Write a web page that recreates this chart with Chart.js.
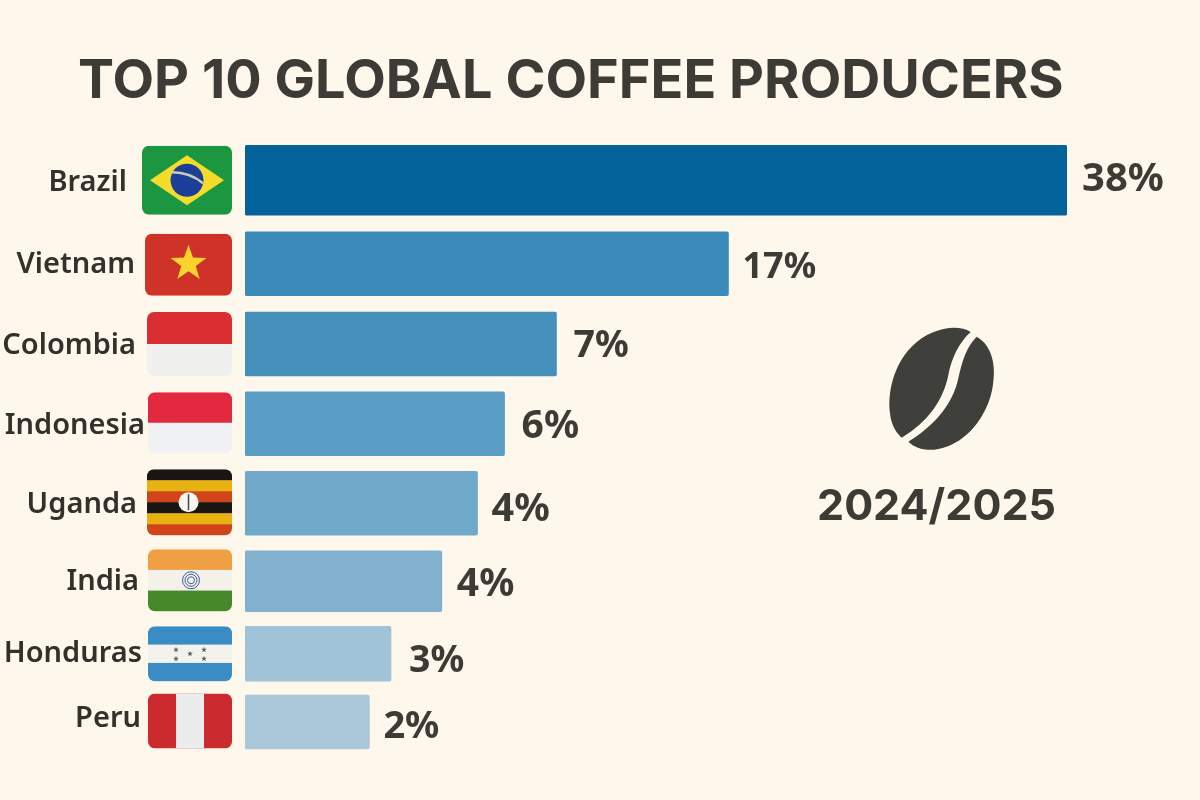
<!DOCTYPE html>
<html>
<head>
<meta charset="utf-8">
<title>Top 10 Global Coffee Producers</title>
<script src="https://cdn.jsdelivr.net/npm/chart.js@4"></script>
<style>
  html, body { margin: 0; padding: 0; background: #fef8ec; }
  canvas { display: block; }
</style>
</head>
<body>
<canvas id="coffeeChart" width="1200" height="800"></canvas>
<script>
const countries = ['Brazil', 'Vietnam', 'Colombia', 'Indonesia', 'Uganda', 'India', 'Honduras', 'Peru'];
// printed labels
const shares = [38, 17, 7, 6, 4, 4, 3, 2];
// the picture's bars are not in proportion to the printed labels, these are the drawn lengths
const barLengths = [38, 22.35, 14.4, 12, 10.75, 9.1, 6.75, 5.75];

const titleText = 'TOP 10 GLOBAL COFFEE PRODUCERS';
const yearText = '2024/2025';

// styling per row
const barColors = ['#05639b', '#3a8bb9', '#4590bb', '#5a9dc5', '#71a9cb', '#82b1cd', '#a1c3d7', '#a9c7d9'];
const barHeights = [70, 64, 64, 64, 64, 61, 55, 54];
const rowWeights = [86.5, 80.5, 80, 79.5, 79.5, 76.5, 68.5, 68];
const labelRight = [127, 135, 136, 145, 137, 139, 142, 141];
const labelNudge = [2, 1, 2, 2, 1, 0, 0, -3];
const valueNudge = [-1, 4, 2, 3, 6, 4, 8, 5];
const valueGap = [15, 14, 17, 17, 14, 15, 18, 14];
const valueSizes = [40, 36, 37.5, 39, 39.5, 39, 37.5, 38];
const flagLeft = [142, 145, 147, 148, 147, 148, 148, 148];
const flagHeights = [69, 62, 64, 61, 66, 62, 55, 55];
const flagNudge = [0, 1, 0, -1, -1, -1, 0, -1];

const INK = '#3d3b35';
const FLAG_RIGHT = 232;

// category scale whose rows can have different heights
class WeightedCategory extends Chart.CategoryScale {
  static id = 'weightedCategory';
  getPixelForValue(value, index) {
    const i = index !== undefined ? index : value;
    const total = rowWeights.reduce((a, b) => a + b, 0);
    const before = rowWeights.slice(0, i).reduce((a, b) => a + b, 0);
    return this.top + (before + rowWeights[i] / 2) / total * this.height;
  }
}
Chart.register(WeightedCategory);

function roundedClip(ctx, x, y, w, h, r, draw) {
  ctx.save();
  ctx.beginPath();
  ctx.roundRect(x, y, w, h, r);
  ctx.clip();
  draw();
  ctx.restore();
}

function stripes(ctx, x, y, w, h, colors) {
  const step = h / colors.length;
  colors.forEach((c, i) => {
    ctx.fillStyle = c;
    ctx.fillRect(x, y + i * step, w, step + 0.5);
  });
}

function star(ctx, cx, cy, r, color) {
  ctx.fillStyle = color;
  ctx.beginPath();
  for (let i = 0; i < 10; i++) {
    const rad = i % 2 ? r * 0.4 : r;
    const a = -Math.PI / 2 + i * Math.PI / 5;
    ctx.lineTo(cx + rad * Math.cos(a), cy + rad * Math.sin(a));
  }
  ctx.closePath();
  ctx.fill();
}

const flagPainters = {
  Brazil(ctx, x, y, w, h) {
    const cx = x + w / 2, cy = y + h / 2;
    ctx.fillStyle = '#1c9640';
    ctx.fillRect(x, y, w, h);
    ctx.fillStyle = '#f5dc2a';
    ctx.beginPath();
    ctx.moveTo(cx - 37, cy);
    ctx.lineTo(cx, cy - 25);
    ctx.lineTo(cx + 37, cy);
    ctx.lineTo(cx, cy + 25);
    ctx.closePath();
    ctx.fill();
    ctx.fillStyle = '#1b3f96';
    ctx.beginPath();
    ctx.arc(cx, cy, 16.5, 0, Math.PI * 2);
    ctx.fill();
    ctx.strokeStyle = '#c9cdb8';
    ctx.lineWidth = 2.5;
    ctx.beginPath();
    ctx.moveTo(cx - 15, cy - 8);
    ctx.quadraticCurveTo(cx + 3, cy - 8, cx + 16, cy + 3);
    ctx.stroke();
  },
  Vietnam(ctx, x, y, w, h) {
    ctx.fillStyle = '#cf3327';
    ctx.fillRect(x, y, w, h);
    star(ctx, x + w / 2, y + h / 2 - 1, 19, '#fbd32d');
  },
  Colombia(ctx, x, y, w, h) {
    stripes(ctx, x, y, w, h, ['#d92f32', '#f0f1ee']);
  },
  Indonesia(ctx, x, y, w, h) {
    stripes(ctx, x, y, w, h, ['#e2293f', '#eff1f2']);
  },
  Uganda(ctx, x, y, w, h) {
    stripes(ctx, x, y, w, h, ['#191512', '#e9b213', '#d2451a', '#191512', '#e9b213', '#d2451a']);
    ctx.fillStyle = '#f8f6ee';
    ctx.beginPath();
    ctx.arc(x + w / 2 - 1, y + h / 2, 10, 0, Math.PI * 2);
    ctx.fill();
    ctx.strokeStyle = '#3c4a4c';
    ctx.lineWidth = 1.5;
    ctx.beginPath();
    ctx.moveTo(x + w / 2 - 1, y + h / 2 - 8);
    ctx.lineTo(x + w / 2 - 1, y + h / 2 + 8);
    ctx.stroke();
  },
  India(ctx, x, y, w, h) {
    stripes(ctx, x, y, w, h, ['#f0a044', '#f3f1ea', '#46892a']);
    const cx = x + w / 2 + 1, cy = y + h / 2;
    ctx.strokeStyle = '#3f5f9f';
    ctx.lineWidth = 1;
    [8.5, 6, 3.5].forEach(r => {
      ctx.beginPath();
      ctx.arc(cx, cy, r, 0, Math.PI * 2);
      ctx.stroke();
    });
  },
  Honduras(ctx, x, y, w, h) {
    stripes(ctx, x, y, w, h, ['#3a8cc4', '#f4f2ec', '#3a8cc4']);
    const cx = x + w / 2, cy = y + h / 2;
    [[-14, -4], [14, -4], [0, 0], [-14, 5], [14, 5]].forEach(p => {
      star(ctx, cx + p[0], cy + p[1], 3, '#55606f');
    });
  },
  Peru(ctx, x, y, w, h) {
    ctx.fillStyle = '#cb2a2e';
    ctx.fillRect(x, y, w, h);
    ctx.fillStyle = '#ebecec';
    ctx.fillRect(x + 28, y, 28, h);
  }
};

function drawBean(ctx) {
  // shape, coordinates are in a 3x crop
  ctx.save();
  ctx.translate(800, 310);
  ctx.scale(1 / 3, 1 / 3);
  ctx.fillStyle = '#3f3f3b';
  ctx.beginPath();
  ctx.moveTo(512, 66);
  ctx.bezierCurveTo(470, 40, 390, 55, 335, 110);
  ctx.bezierCurveTo(280, 165, 262, 250, 270, 310);
  ctx.bezierCurveTo(273, 340, 285, 365, 305, 383);
  ctx.bezierCurveTo(385, 335, 430, 270, 445, 195);
  ctx.bezierCurveTo(455, 140, 480, 95, 512, 66);
  ctx.closePath();
  ctx.fill();
  ctx.beginPath();
  ctx.moveTo(530, 80);
  ctx.bezierCurveTo(575, 105, 590, 165, 578, 230);
  ctx.bezierCurveTo(565, 310, 510, 385, 440, 410);
  ctx.bezierCurveTo(395, 427, 350, 420, 325, 395);
  ctx.bezierCurveTo(400, 350, 458, 285, 475, 205);
  ctx.bezierCurveTo(487, 150, 500, 110, 530, 80);
  ctx.closePath();
  ctx.fill();
  ctx.restore();
}

const decorations = {
  id: 'decorations',
  afterDatasetsDraw(chart) {
    const ctx = chart.ctx;
    const yScale = chart.scales.y;
    ctx.save();
    ctx.textBaseline = 'middle';

    // title
    ctx.fillStyle = INK;
    ctx.textAlign = 'left';
    ctx.font = '700 54px Inter';
    ctx.letterSpacing = '0.05px';
    ctx.fillText(titleText, 78, 82);
    ctx.letterSpacing = '0px';

    countries.forEach((name, i) => {
      const cy = yScale.getPixelForValue(i, i);

      // country label
      ctx.fillStyle = '#33312c';
      ctx.textAlign = 'right';
      ctx.font = '600 29px "Noto Sans"';
      ctx.fillText(name, labelRight[i], cy + labelNudge[i]);

      // flag
      const h = flagHeights[i];
      const fx = flagLeft[i];
      const fy = cy - h / 2 + flagNudge[i];
      const fw = FLAG_RIGHT - fx;
      roundedClip(ctx, fx, fy, fw, h, 7, () => flagPainters[name](ctx, fx, fy, fw, h));

      // printed share next to the bar end
      const bar = chart.getDatasetMeta(i).data[i];
      ctx.fillStyle = INK;
      ctx.textAlign = 'left';
      ctx.font = '700 ' + valueSizes[i] + 'px "Noto Sans"';
      ctx.fillText(shares[i] + '%', bar.x + valueGap[i], cy + valueNudge[i]);
    });

    drawBean(ctx);

    ctx.fillStyle = INK;
    ctx.textAlign = 'center';
    ctx.font = '700 43px Inter';
    ctx.fillText(yearText, 936.5, 507);
    ctx.restore();
  }
};

new Chart(document.getElementById('coffeeChart').getContext('2d'), {
  type: 'bar',
  data: {
    labels: countries,
    // one dataset per row, barThickness is a dataset level option
    datasets: countries.map((name, i) => ({
      label: name,
      data: barLengths.map((v, j) => (j === i ? v : null)),
      backgroundColor: barColors[i],
      barThickness: barHeights[i],
      grouped: false,
      borderRadius: 2,
      borderSkipped: false
    }))
  },
  options: {
    indexAxis: 'y',
    responsive: false,
    animation: false,
    layout: { padding: { left: 245, right: 133, top: 137, bottom: 44 } },
    scales: {
      x: { display: false, min: 0, max: 38 },
      y: { type: 'weightedCategory', display: false }
    },
    plugins: {
      legend: { display: false },
      tooltip: { enabled: false }
    }
  },
  plugins: [decorations]
});
</script>
</body>
</html>
